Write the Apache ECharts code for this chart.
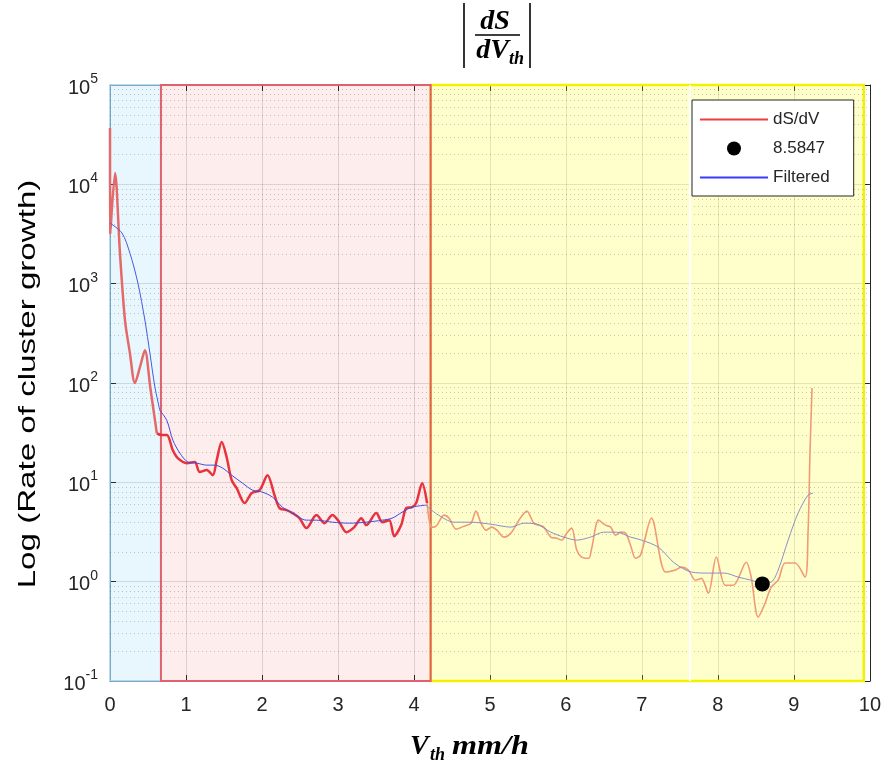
<!DOCTYPE html>
<html><head><meta charset="utf-8">
<script src="https://cdn.jsdelivr.net/npm/echarts@6/dist/echarts.min.js"></script>
<style>html,body{margin:0;padding:0;background:#fff}#c{width:884px;height:772px}</style>
</head><body><div id="c"></div>
<script>
// ---------- data ----------
const xTickValues = [0,1,2,3,4,5,6,7,8,9,10];
const yDecades = [0.1,1,10,100,1000,10000,100000];

const dsdvX = [0,0.004,0.066,0.131,0.197,0.262,0.328,0.40,0.459,0.53,0.617,0.682,0.748,0.827,0.892,1.010,1.115,1.181,1.273,1.352,1.404,1.470,1.535,1.601,1.667,1.772,1.864,1.969,2.073,2.165,2.231,2.323,2.402,2.493,2.585,2.717,2.822,2.927,3.018,3.110,3.215,3.307,3.373,3.504,3.583,3.675,3.740,3.832,3.898,3.976,4.029,4.108,4.173,4.22,4.265,4.304,4.396,4.462,4.554,4.659,4.751,4.816,4.882,4.948,5.026,5.092,5.184,5.276,5.381,5.486,5.577,5.643,5.709,5.801,5.879,5.945,6.010,6.076,6.142,6.207,6.299,6.339,6.430,6.522,6.588,6.654,6.719,6.785,6.850,6.916,6.982,7.126,7.310,7.441,7.520,7.612,7.703,7.782,7.874,7.979,8.097,8.202,8.373,8.438,8.530,8.622,8.701,8.793,8.885,9.016,9.147,9.186,9.213,9.239];
const dsdvY = [37000,3200,13000,2030,430,200,100,150,214,90,31,30,30,21,17.5,15.6,16,12.7,13.3,11.8,16.7,25.4,17.9,10.5,8.75,6.18,7.78,8.34,11.8,7.43,5.50,5.25,4.90,4.36,3.46,4.68,3.88,4.68,3.97,3.15,3.54,4.36,3.71,4.90,3.97,4.16,2.87,3.71,5.50,5.63,6.18,9.80,6.18,3.6,3.54,3.71,4.68,4.36,3.38,3.62,3.88,5.13,3.88,3.30,3.54,3.30,2.81,3.08,4.16,5.13,3.88,3.71,3.54,2.81,2.74,2.62,3.08,3.46,2.08,1.77,1.72,2.17,4.16,3.71,3.54,2.94,3.15,3.08,2.33,1.72,1.85,4.36,1.25,1.31,1.40,1.31,1.035,1.08,0.766,1.77,0.92,0.92,1.57,1.11,0.44,0.61,0.88,1.035,1.54,1.54,1.11,3.08,21,89];

const filteredX = [0,0.157,0.262,0.367,0.459,0.525,0.591,0.656,0.748,0.827,0.919,1.024,1.142,1.273,1.378,1.483,1.601,1.745,1.877,2.008,2.139,2.270,2.402,2.585,2.717,2.927,3.150,3.373,3.583,3.714,3.845,3.976,4.160,4.30,4.528,4.751,5.013,5.276,5.446,5.617,5.801,5.971,6.142,6.325,6.496,6.667,6.850,6.995,7.218,7.428,7.651,7.874,8.084,8.268,8.438,8.570,8.701,8.793,8.924,9.055,9.186,9.252];
const filteredY = [4070,3240,2030,1014,430,200,91,53,42,26.6,19.7,16,15.6,14.9,14.9,13.9,11.8,9.8,8.34,7.96,7.1,5.62,4.90,4.16,4.16,3.97,3.88,3.97,4.16,4.36,5.01,5.63,5.89,4.8,3.97,3.97,3.79,3.54,3.88,3.79,3.15,2.81,2.62,2.81,3.15,3.15,2.81,2.62,2.22,1.54,1.25,1.22,1.22,1.11,1.035,0.966,0.99,1.31,2.62,4.90,7.43,7.78];

const pointX = [8.5847];
const pointY = [0.95];

const regionStart = [0, 0.67, 4.22];
const regionEnd   = [0.67, 4.22, 9.92];
const gapLineX = [7.63];

const seriesNames = ['dS/dV', '8.5847', 'Filtered'];
const yLabelText = 'Log (Rate of cluster growth)';

// ---------- styles ----------
const regionFill   = ['rgba(0,170,240,0.09)', 'rgba(230,0,0,0.07)', 'rgba(255,255,0,0.2)'];
const regionBorder = ['#9fd0ee', '#e0606c', '#f2f200'];
const regionBorderW = [1.5, 2, 2.5];
const redColors  = ['#e46a6a', '#e8323c', '#f29a78'];
const redWidths  = [2.5, 2.5, 1.6];
const blueColors = ['#4a58e0', '#3c4ce6', '#8a8ec8'];
const axisColor = '#262626';
const lineIcon = 'path://M0,0H68V2H0Z';

function splitByRegion(xs, ys) {
  const out = regionStart.map(() => []);
  for (let i = 0; i < xs.length; i++) {
    let r = regionStart.length - 1;
    for (let k = 0; k < regionEnd.length; k++) { if (xs[i] < regionEnd[k]) { r = k; break; } }
    out[r].push([xs[i], ys[i]]);
  }
  for (let k = 1; k < out.length; k++) {
    const prev = out[k - 1];
    if (prev.length) out[k].unshift(prev[prev.length - 1]);
  }
  return out;
}

const minorValues = [];
yDecades.slice(0, -1).forEach(d => { for (let k = 2; k <= 9; k++) minorValues.push(d * k); });

const redSeg = splitByRegion(dsdvX, dsdvY);
const blueSeg = splitByRegion(filteredX, filteredY);

const regionOrder = [0, 2, 1];
const series = [];
series.push({
  type: 'line', name: 'regions', data: [], silent: true, z: 1,
  markArea: {
    silent: true,
    data: regionOrder.map(k => [
      { xAxis: regionStart[k], itemStyle: { color: regionFill[k], borderColor: regionBorder[k], borderWidth: regionBorderW[k] } },
      { xAxis: regionEnd[k] }
    ])
  }
});
series.push({
  type: 'line', name: 'minorgrid', data: [], silent: true,
  markLine: {
    silent: true, symbol: 'none', label: { show: false }, z: 1,
    lineStyle: { type: [1, 3], color: 'rgba(38,38,38,0.25)', width: 1 },
    data: minorValues.map(v => ({ yAxis: v }))
      .concat(gapLineX.map(v => ({ xAxis: v, lineStyle: { type: 'solid', color: '#ffffff', width: 2 } })))
  }
});
[1, 0, 2].forEach(k => {
  series.push({
    type: 'line', name: seriesNames[0], data: redSeg[k], symbol: 'none', showSymbol: false, z: 3, smooth: 0.3,
    lineStyle: { color: redColors[k], width: redWidths[k] }, itemStyle: { color: '#f03c3c' }
  });
});
[1, 0, 2].forEach(k => {
  series.push({
    type: 'line', name: seriesNames[2], data: blueSeg[k], symbol: 'none', showSymbol: false, z: 4, smooth: 0.3,
    lineStyle: { color: blueColors[k], width: 1 }, itemStyle: { color: '#3a3aff' }
  });
});
series.push({
  type: 'scatter', name: seriesNames[1], data: pointX.map((x, i) => [x, pointY[i]]),
  symbol: 'circle', symbolSize: 15, itemStyle: { color: '#000', opacity: 1 }, z: 6
});

const yLabelRich = {
  b: { fontSize: 20, color: axisColor, fontFamily: 'Liberation Sans', padding: [6, 0, 0, 0], verticalAlign: 'bottom' },
  s: { fontSize: 14, color: axisColor, fontFamily: 'Liberation Sans', verticalAlign: 'top' }
};

const option = {
  animation: false,
  backgroundColor: '#fff',
  grid: { left: 110, right: 11, top: 85, bottom: 91, containLabel: false },
  legend: {
    data: [
      { name: seriesNames[0], icon: lineIcon },
      { name: seriesNames[1], icon: 'circle', itemStyle: { color: '#000', opacity: 1 } },
      { name: seriesNames[2], icon: lineIcon }
    ],
    orient: 'vertical', left: 692, top: 100,
    itemWidth: 68, itemHeight: 14, itemGap: 12,
    padding: [11, 24, 10, 8],
    backgroundColor: '#fff', borderColor: axisColor, borderWidth: 1,
    textStyle: { fontSize: 17, color: axisColor, fontFamily: 'Liberation Sans' },
    selectedMode: false
  },
  xAxis: [{
    type: 'value', min: 0, max: 10, interval: 1, position: 'bottom',
    axisLine: { show: true, onZero: false, lineStyle: { color: axisColor, width: 1 } },
    axisTick: { show: true, inside: true, length: 6, lineStyle: { color: axisColor } },
    axisLabel: { fontSize: 20, color: axisColor, fontFamily: 'Liberation Sans', margin: 14 },
    splitLine: { show: true, lineStyle: { color: 'rgba(38,38,38,0.15)', width: 1 } }
  }, {
    type: 'value', min: 0, max: 10, interval: 1, position: 'top',
    axisLine: { show: true, onZero: false, lineStyle: { color: axisColor, width: 1 } },
    axisTick: { show: true, inside: true, length: 6, lineStyle: { color: axisColor } },
    axisLabel: { show: false }, splitLine: { show: false }
  }],
  yAxis: [{
    type: 'log', logBase: 10, min: 0.1, max: 100000, splitNumber: 6,
    axisLine: { show: true, onZero: false, lineStyle: { color: axisColor, width: 1 } },
    axisTick: { show: true, inside: true, length: 6, lineStyle: { color: axisColor } },
    axisLabel: {
      margin: 12, rich: yLabelRich,
      formatter: v => '{b|10}{s|' + Math.round(Math.log10(v)) + '}'
    },
    splitLine: { show: true, lineStyle: { color: 'rgba(38,38,38,0.15)', width: 1 } }
  }, {
    type: 'log', logBase: 10, min: 0.1, max: 100000, splitNumber: 6, position: 'right',
    axisLine: { show: true, onZero: false, lineStyle: { color: axisColor, width: 1 } },
    axisTick: { show: true, inside: true, length: 6, lineStyle: { color: axisColor } },
    axisLabel: { show: false }, splitLine: { show: false }
  }],
  graphic: [
    { type: 'line', shape: { x1: 464, y1: 3, x2: 464, y2: 68 }, style: { stroke: '#000', lineWidth: 1.6 } },
    { type: 'line', shape: { x1: 530, y1: 3, x2: 530, y2: 68 }, style: { stroke: '#000', lineWidth: 1.6 } },
    { type: 'line', shape: { x1: 475, y1: 35, x2: 520, y2: 35 }, style: { stroke: '#000', lineWidth: 1.5 } },
    { type: 'text', x: 495, y: 22, style: { text: 'dS', fontSize: 28, fontWeight: 'bold', fontStyle: 'italic', fontFamily: 'Liberation Serif', fill: '#000', align: 'center', verticalAlign: 'middle' } },
    { type: 'text', x: 509, y: 51, style: { text: 'dV', fontSize: 28, fontWeight: 'bold', fontStyle: 'italic', fontFamily: 'Liberation Serif', fill: '#000', align: 'right', verticalAlign: 'middle' } },
    { type: 'text', x: 509, y: 59, style: { text: 'th', fontSize: 18, fontWeight: 'bold', fontStyle: 'italic', fontFamily: 'Liberation Serif', fill: '#000', align: 'left', verticalAlign: 'middle' } },
    { type: 'text', x: 410, y: 747, style: { text: 'V', fontSize: 28, fontWeight: 'bold', fontStyle: 'italic', fontFamily: 'Liberation Serif', fill: '#000', align: 'left', verticalAlign: 'middle' } },
    { type: 'text', x: 430, y: 755, style: { text: 'th', fontSize: 18, fontWeight: 'bold', fontStyle: 'italic', fontFamily: 'Liberation Serif', fill: '#000', align: 'left', verticalAlign: 'middle' } },
    { type: 'text', x: 452, y: 747, scaleX: 1.15, style: { text: 'mm/h', fontSize: 28, fontWeight: 'bold', fontStyle: 'italic', fontFamily: 'Liberation Serif', fill: '#000', align: 'left', verticalAlign: 'middle' } },
    { type: 'text', x: 28, y: 384, rotation: Math.PI / 2, scaleX: 1.38, style: { text: yLabelText, fontSize: 24, fontFamily: 'Liberation Sans', fill: '#000', align: 'center', verticalAlign: 'middle' } }
  ],
  series: series
};

const chart = echarts.init(document.getElementById('c'), null, { renderer: 'canvas' });
chart.setOption(option);
</script>
</body></html>
